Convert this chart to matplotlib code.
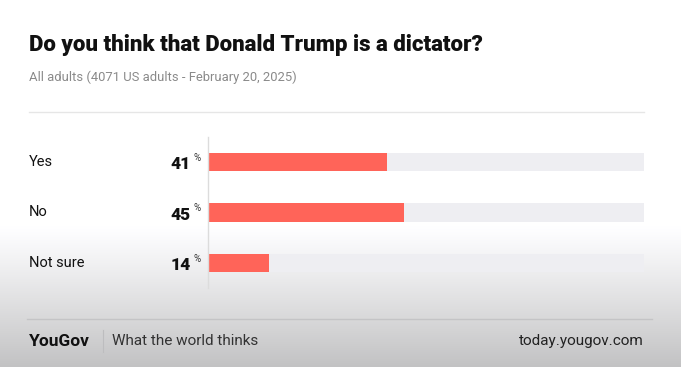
import numpy as np
import matplotlib
matplotlib.use("Agg")
import matplotlib.pyplot as plt
from matplotlib.transforms import blended_transform_factory

# chart data
answers = ["Yes", "No", "Not sure"]
shares = [41, 45, 14]

title = "Do you think that Donald Trump is a dictator?"
subtitle = "All adults (4071 US adults - February 20, 2025)"

W, H = 681, 367
fig = plt.figure(figsize=(W / 100, H / 100), dpi=100)
plt.rcParams['font.family'] = ['Roboto', 'DejaVu Sans']

# background: white fading to grey toward the bottom
bg = fig.add_axes([0, 0, 1, 1], zorder=-10)
rows = np.arange(H)
shade = np.ones(H)
fade = rows > 225
shade[fade] = 1 - 0.24 * ((rows[fade] - 225) / (H - 225)) ** 1.1
col = np.stack([shade, shade, np.clip(shade * 1.006, 0, 1)], axis=-1)
img = np.repeat(col[:, None, :], 2, axis=1)
bg.imshow(img, aspect='auto', extent=[0, 1, 0, 1], origin='upper')
bg.set_axis_off()


def fx(px):
    return px / W


def fy(py):
    return 1 - py / H


# header
fig.text(fx(29), fy(45), title, fontsize=16, fontweight='black',
         color='#111111', va='center', ha='left')
fig.text(fx(29), fy(77), subtitle, fontsize=9.4, color='#8a8a8a',
         va='center', ha='left')
fig.add_artist(plt.Line2D([fx(29), fx(644)], [fy(112), fy(112)],
                          color='#e6e6e6', lw=1))

# bars
ax = fig.add_axes([fx(208), fy(288), (644 - 208) / W, (288 - 137) / H])
ax.set_facecolor('none')
pos = np.arange(len(answers))
ax.barh(pos, [100] * len(answers), height=0.36, color='#eeeef2', zorder=1)
ax.barh(pos, shares, height=0.36, color='#ff6459', zorder=2)
ax.set_xlim(0, 100)
ax.set_ylim(2.5, -0.5)
ax.set_xticks([])
ax.set_yticks([])
for side in ['top', 'right', 'bottom']:
    ax.spines[side].set_visible(False)
ax.spines['left'].set_color('#dcdcdc')
ax.spines['left'].set_linewidth(1)

tr = blended_transform_factory(fig.transFigure, ax.transData)
for p, a, s in zip(pos, answers, shares):
    ax.text(fx(29), p, a, transform=tr, fontsize=10.5, color='#111111',
            va='center', ha='left')
    ax.text(fx(191), p + 0.04, str(s), transform=tr, fontsize=12.5,
            fontweight='black', color='#111111', va='center', ha='right')
    ax.text(fx(194), p - 0.08, '%', transform=tr, fontsize=7,
            color='#333333', va='center', ha='left')

# footer
fig.add_artist(plt.Line2D([fx(27), fx(652)], [fy(319), fy(319)],
                          color='#c4c4c6', lw=1))
fig.text(fx(29), fy(341), 'YouGov', fontsize=12.5, fontweight='bold',
         color='#111111', va='center', ha='left')
fig.add_artist(plt.Line2D([fx(103), fx(103)], [fy(330), fy(352)],
                          color='#bdbdbf', lw=0.8))
fig.text(fx(112), fy(341), 'What the world thinks', fontsize=11,
         color='#333333', va='center', ha='left')
fig.text(fx(644), fy(341), 'today.yougov.com', fontsize=11,
         color='#222222', va='center', ha='right')

fig.savefig('out.png', dpi=100)
